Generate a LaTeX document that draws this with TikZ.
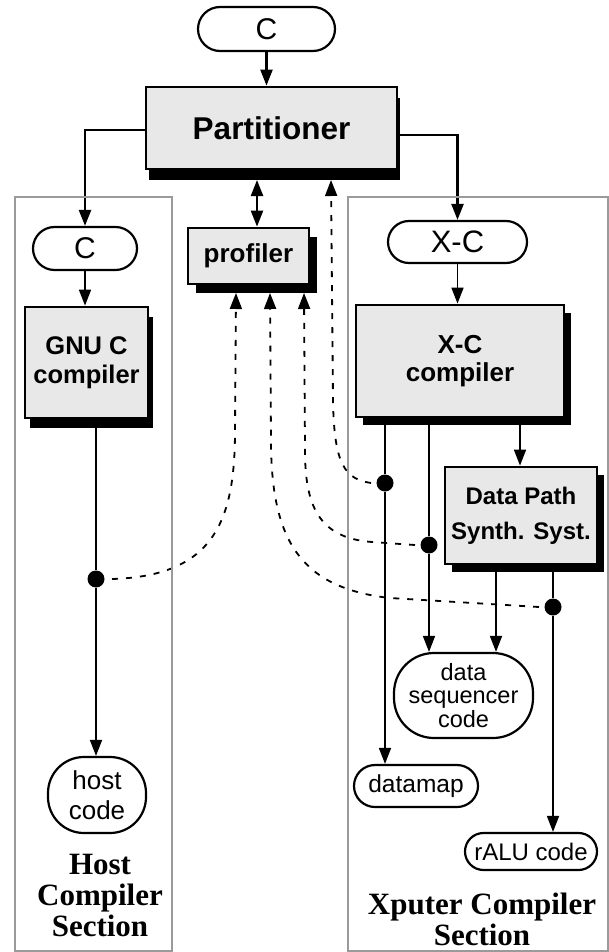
\documentclass[tikz,border=0pt]{standalone}
\usepackage{fontspec}
\setmainfont{Liberation Serif}
\setsansfont{Liberation Sans}
\usetikzlibrary{arrows.meta,shadows,backgrounds}
\definecolor{boxgray}{HTML}{E8E8E8}
\definecolor{secgray}{HTML}{9A9A9A}
\tikzset{
  term/.style={draw, line width=2.2pt, fill=white, rectangle, inner sep=0pt, align=center, font=\sffamily\fontsize{24}{22}\selectfont},
  procbox/.style={draw, line width=2.8pt, fill=boxgray, rectangle, inner sep=0pt, align=center,
     general shadow={fill=black, shadow xshift=#1}},
  dotnode/.style={circle, fill=black, inner sep=0pt, minimum size=17pt},
  tip/.style={-{Triangle[length=16pt,width=12pt]}},
  thickconn/.style={tip, line width=2.4pt},
  thinconn/.style={tip, line width=1.7pt},
  dashconn/.style={tip, line width=1.8pt, dash pattern=on 6pt off 8pt},
  secbox/.style={draw=secgray, line width=2.4pt},
  seclabel/.style={font=\rmfamily\bfseries\fontsize{31}{31}\selectfont, align=center, inner sep=0pt}
}
\begin{document}
\begin{tikzpicture}[x=1pt,y=-1pt]
\useasboundingbox (0,0) rectangle (609,952);
% sections
\draw[secbox] (15,197) rectangle (172,950.8);
\draw[secbox] (348,197) rectangle (607.8,950.8);
% nodes
\node[term, minimum width=137pt, minimum height=44pt, rounded corners=22pt, font=\sffamily\fontsize{30}{30}\selectfont] (cTop) at (266.5,29) {C};
\node[procbox={3pt,shadow yshift=-11pt}, minimum width=251pt, minimum height=82pt, font=\sffamily\bfseries\fontsize{31.5}{32}\selectfont] (part) at (271.5,128) {Partitioner};
\node[procbox={8pt,shadow yshift=-9pt}, minimum width=121pt, minimum height=56pt, font=\sffamily\bfseries\fontsize{26}{26}\selectfont] (prof) at (248.5,256) {profiler};
\node[term, minimum width=104pt, minimum height=43pt, rounded corners=21.5pt, font=\sffamily\fontsize{30}{30}\selectfont] (cL) at (85,248.5) {C};
\node[procbox={5pt,shadow yshift=-10pt}, minimum width=123pt, minimum height=111pt, font=\sffamily\bfseries\fontsize{25.5}{29}\selectfont] (gnu) at (86.5,362.5) {GNU C\\compiler};
\node[term, minimum width=139pt, minimum height=42pt, rounded corners=21pt, font=\sffamily\fontsize{31}{30}\selectfont] (xcT) at (457.5,242) {X-C};
\node[procbox={7pt,shadow yshift=-8pt}, minimum width=208pt, minimum height=112pt, font=\sffamily\bfseries\fontsize{26}{28}\selectfont] (xcc) at (460,361) {X-C\\compiler};
\node[procbox={7pt,shadow yshift=-8pt}, minimum width=152pt, minimum height=97pt, font=\sffamily\bfseries\fontsize{24}{35}\selectfont] (dp) at (521,515.5) {Data Path\\Synth. Syst.};
\node[term, minimum width=139pt, minimum height=85pt, rounded corners=40pt, font=\sffamily\fontsize{23.5}{23.5}\selectfont] (dsc) at (463.5,695.5) {data\\sequencer\\code};
\node[term, minimum width=124pt, minimum height=42pt, rounded corners=21pt, font=\sffamily\fontsize{24.5}{22}\selectfont] (dmap) at (416,786) {datamap};
\node[term, minimum width=132pt, minimum height=37pt, rounded corners=18.5pt, font=\sffamily\fontsize{24}{22}\selectfont] (ralu) at (531,851.5) {rALU code};
\node[term, minimum width=98pt, minimum height=76pt, rounded corners=36pt, font=\sffamily\fontsize{26}{30}\selectfont] (hcode) at (97,795) {host\\code};
% dots
\node[dotnode] (d0) at (96,579) {};
\node[dotnode] (d1) at (385,483) {};
\node[dotnode] (d2) at (429,545) {};
\node[dotnode] (d3) at (553,607) {};
% auxiliary coordinates
\coordinate (pA) at (257,180);
\coordinate (pB) at (331,180);
\coordinate (t1) at (236,293);
\coordinate (t2) at (270,293);
\coordinate (t3) at (304,293);
\coordinate (xd) at (520,0);
\coordinate (ds) at (496,0);
% labels
\node[seclabel] (hlab) at (100,895) {Host\\Compiler\\Section};
\node[seclabel] (xlab) at (482,919) {Xputer Compiler\\Section};
\begin{pgfonlayer}{background}
\draw[thickconn] (cTop.south) -- (cTop.south |- part.north);
\draw[thickconn] (part.west |- 0,130) -| (cL.north);
\draw[thickconn] (part.east |- 0,135) -| (xcT.north);
\draw[thickconn, {Triangle[length=16pt,width=12pt]}-{Triangle[length=16pt,width=12pt]}] (pA) -- (pA |- prof.north);
\draw[thinconn] (cL.south) -- (cL.south |- gnu.north);
\draw[thinconn] (xcT.south) -- (xcT.south |- xcc.north);
\draw[thinconn] (gnu.south -| d0) -- (d0) -- (d0 |- hcode.north);
\draw[thinconn] (xcc.south -| d1) -- (d1) -- (d1 |- dmap.north);
\draw[thinconn] (xcc.south -| d2) -- (d2) -- (d2 |- dsc.north);
\draw[thinconn] (xcc.south -| xd) -- (dp.north -| xd);
\draw[thinconn] (dp.south -| ds) -- (dsc.north -| ds);
\draw[thinconn] (dp.south -| d3) -- (d3) -- (d3 |- ralu.north);
% dashed feedback
\draw[dashconn] ([xshift=16pt]d0.center) .. controls (215,576) and (235,520) .. (235,430) -- (t1);
\draw[dashconn] ([xshift=-14pt]d3.center) -- (390,598) .. controls (300,588) and (271,540) .. (271,440) -- (t2);
\draw[dashconn] ([xshift=-14pt]d2.center) -- (372,542) .. controls (318,538) and (305,505) .. (305,450) -- (t3);
\draw[dashconn] ([xshift=-14pt]d1.center) .. controls (345,479) and (334,465) .. (333,400) -- (pB);
\end{pgfonlayer}
\end{tikzpicture}
\end{document}
